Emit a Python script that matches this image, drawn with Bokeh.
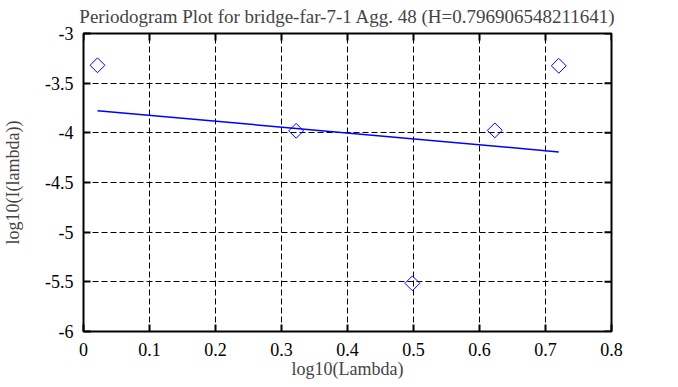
import math
from bokeh.plotting import figure
from bokeh.models import FixedTicker, NumeralTickFormatter, Range1d
from bokeh.embed import file_html
from bokeh.resources import INLINE

# data
lambda_log = [0.0212, 0.3222, 0.4983, 0.6232, 0.7201]
periodogram_log = [-3.32, -3.98, -5.515, -3.975, -3.325]
fit_x = [0.0212, 0.7201]
fit_y = [-3.777, -4.192]
x_ticks = [0, 0.1, 0.2, 0.3, 0.4, 0.5, 0.6, 0.7, 0.8]
y_ticks = [-6, -5.5, -5, -4.5, -4, -3.5, -3]
x_min, x_max = 0, 0.8
y_min, y_max = -6, -3
title_text = "Periodogram Plot for bridge-far-7-1 Agg. 48 (H=0.796906548211641)"

FONT = "Liberation Serif"

p = figure(width=678, height=387, output_backend="svg", toolbar_location=None,
           x_range=Range1d(x_min, x_max), y_range=Range1d(y_min, y_max),
           min_border_left=82, min_border_right=67, min_border_top=31, min_border_bottom=56)

p.title.text = title_text
p.title.text_font = FONT
p.title.text_font_size = "19px"
p.title.text_font_style = "normal"
p.title.align = "center"
p.title.vertical_align = "top"
p.title.offset = 0
p.title.standoff = 10

p.outline_line_color = "black"
p.outline_line_width = 2
p.background_fill_color = "white"
p.border_fill_color = "white"

for ax, ticks in ((p.xaxis[0], x_ticks), (p.yaxis[0], y_ticks)):
    ax.ticker = FixedTicker(ticks=ticks)
    ax.formatter = NumeralTickFormatter(format="0.[0]")
    ax.major_tick_in = 7
    ax.major_tick_out = 0
    ax.major_tick_line_width = 2
    ax.minor_tick_line_color = None
    ax.axis_line_color = None
    ax.major_label_text_font = FONT
    ax.major_label_text_font_size = "18px"
    ax.axis_label_text_font = FONT
    ax.axis_label_text_font_size = "18px"
    ax.axis_label_text_font_style = "normal"
    ax.major_label_text_color = "black"

p.xaxis[0].axis_label = "log10(Lambda)"
p.xaxis[0].major_label_standoff = 11
p.xaxis[0].axis_label_standoff = 0
p.yaxis[0].axis_label = "log10(I(lambda))"
p.yaxis[0].major_label_standoff = 10
p.yaxis[0].axis_label_standoff = 19

# inward ticks on the top and right edges of the frame
p.ray(x=x_ticks, y=[y_max] * len(x_ticks), length=7, length_units="screen",
      angle=-math.pi / 2, line_color="black", line_width=2)
p.ray(x=[x_max] * len(y_ticks), y=y_ticks, length=7, length_units="screen",
      angle=math.pi, line_color="black", line_width=2)

p.xgrid.ticker = FixedTicker(ticks=x_ticks)
p.ygrid.ticker = FixedTicker(ticks=y_ticks)
for g in (p.xgrid[0], p.ygrid[0]):
    g.grid_line_color = "black"
    g.grid_line_dash = "6 3"
    g.grid_line_width = 1
    g.grid_line_alpha = 1

p.line(fit_x, fit_y, line_color="#0000ff", line_width=1.5)
p.scatter(lambda_log, periodogram_log, marker="square", angle=math.pi / 4, size=10.5,
          fill_color=None, line_color="#0000ff", line_width=1)

open("out.html", "w").write(file_html(p, INLINE))
